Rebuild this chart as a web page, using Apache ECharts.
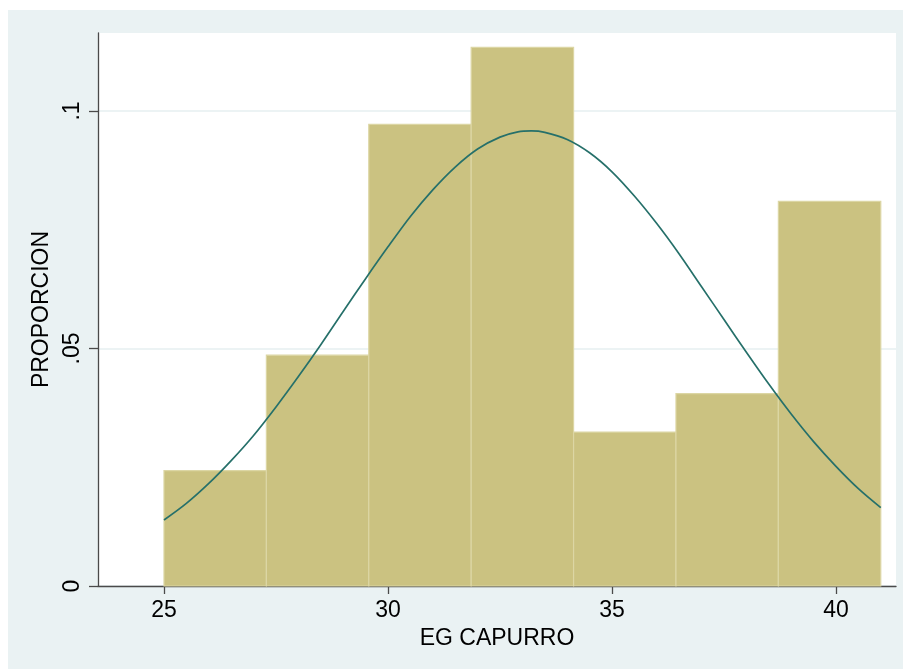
<!DOCTYPE html>
<html>
<head>
<meta charset="utf-8">
<script src="https://cdn.jsdelivr.net/npm/echarts@6/dist/echarts.min.js"></script>
<style>
html,body{margin:0;padding:0;background:#fff;}
#chart{width:903px;height:669px;}
</style>
</head>
<body>
<div id="chart"></div>
<script>
// Histogram bins (EG CAPURRO) and heights (PROPORCION, density)
const binEdges = [25, 27.2857, 29.5714, 31.8571, 34.1429, 36.4286, 38.7143, 41];
const proportion = [0.0243, 0.0486, 0.0972, 0.1134, 0.0324, 0.0405, 0.0810];
// Normal density overlay
const curveX = [25, 25.5, 26, 26.5, 27, 27.5, 28, 28.5, 29, 29.5, 30, 30.5, 31, 31.5, 32, 32.5, 32.9, 33.2, 33.5, 34, 34.5, 35, 35.5, 36, 36.5, 37, 37.5, 38, 38.5, 39, 39.5, 40, 40.5, 41];
const curveY = [0.0139, 0.0174, 0.0216, 0.0264, 0.0317, 0.0377, 0.0441, 0.0508, 0.0578, 0.0647, 0.0714, 0.0778, 0.0834, 0.0882, 0.0920, 0.0945, 0.0956, 0.0958, 0.0955, 0.0940, 0.0912, 0.0872, 0.0821, 0.0763, 0.0699, 0.0630, 0.0561, 0.0492, 0.0425, 0.0362, 0.0304, 0.0252, 0.0205, 0.0165];
const xTicks = [25, 30, 35, 40];
const yTicks = [0, 0.05, 0.1];

const bars = proportion.map((v, i) => [binEdges[i], binEdges[i + 1], v]);
const curve = curveX.map((x, i) => [x, curveY[i]]);

const chart = echarts.init(document.getElementById('chart'));
const font = 'Liberation Sans, Arial, Helvetica, sans-serif';
const fs = 23;
chart.setOption({
  animation: false,
  backgroundColor: '#ffffff',
  graphic: [{
    type: 'rect', z: -10, silent: true,
    shape: {x: 8, y: 10, width: 895, height: 659},
    style: {fill: '#eaf2f3'}
  }],
  grid: {left: 98, top: 33, right: 7, bottom: 83, show: true, backgroundColor: '#ffffff', borderWidth: 0},
  xAxis: {
    type: 'value', min: 23.527, max: 41.34,
    name: 'EG CAPURRO', nameLocation: 'middle', nameGap: 40,
    nameTextStyle: {fontFamily: font, fontSize: fs, color: '#000'},
    axisLine: {show: true, onZero: false, lineStyle: {color: '#4a4a4a', width: 1.3}},
    axisTick: {show: true, length: 8, lineStyle: {color: '#4a4a4a', width: 1.3}, customValues: xTicks},
    axisLabel: {fontFamily: font, fontSize: fs, color: '#000', margin: 13, customValues: xTicks},
    splitLine: {show: false}
  },
  yAxis: {
    type: 'value', min: 0, max: 0.11642, interval: 0.05,
    name: 'PROPORCION', nameLocation: 'middle', nameGap: 41, nameRotate: 90,
    nameTextStyle: {fontFamily: font, fontSize: fs, color: '#000'},
    axisLine: {show: true, lineStyle: {color: '#4a4a4a', width: 1.3}},
    axisTick: {show: true, length: 9, lineStyle: {color: '#4a4a4a', width: 1.3}, customValues: yTicks},
    axisLabel: {
      fontFamily: font, fontSize: fs, color: '#000', rotate: 90, margin: 14,
      customValues: yTicks,
      formatter: v => v === 0 ? '0' : String(v).replace(/^0/, '')
    },
    splitLine: {show: true, lineStyle: {color: '#e6eff0', width: 1.5}}
  },
  series: [
    {
      type: 'custom', z: 2,
      data: bars,
      encode: {x: [0, 1], y: 2},
      renderItem: function (params, api) {
        const p0 = api.coord([api.value(0), api.value(2)]);
        const p1 = api.coord([api.value(1), 0]);
        return {
          type: 'rect',
          shape: {x: p0[0], y: p0[1], width: p1[0] - p0[0], height: p1[1] - p0[1]},
          style: {fill: '#cbc281', stroke: '#dcd6a4', lineWidth: 1.2}
        };
      }
    },
    {
      type: 'line', z: 3, data: curve, smooth: 0.3, symbol: 'none',
      lineStyle: {color: '#26706a', width: 1.7}
    }
  ]
});
</script>
</body>
</html>
